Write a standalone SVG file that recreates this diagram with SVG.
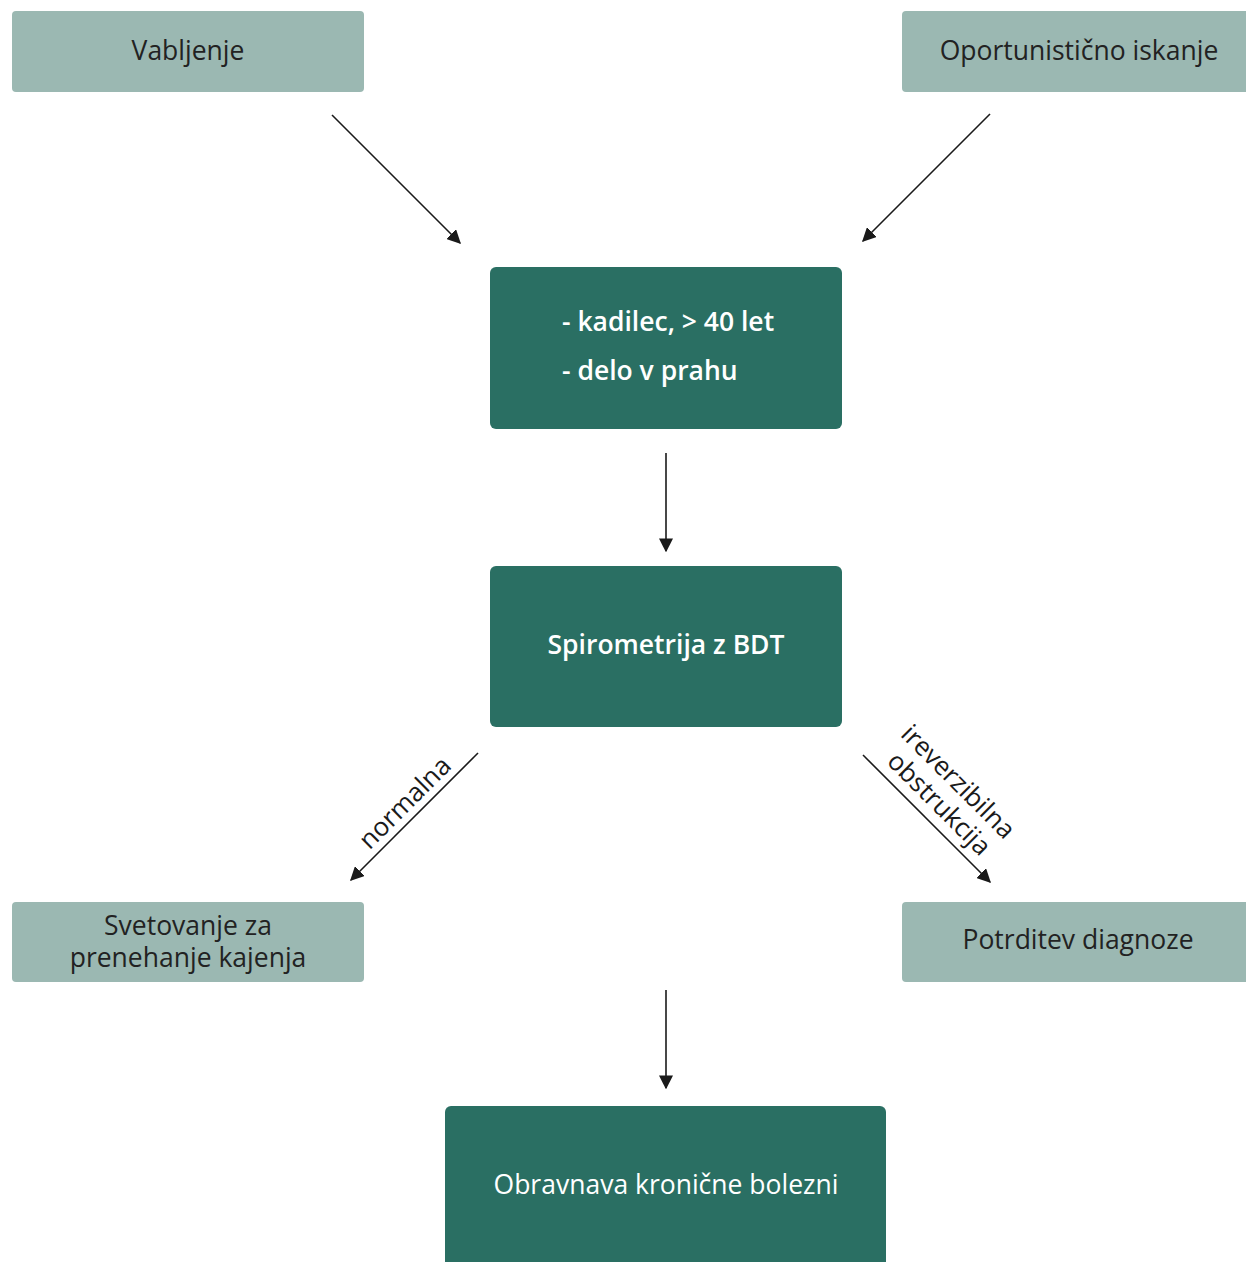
<svg xmlns="http://www.w3.org/2000/svg" width="1246" height="1262" viewBox="0 0 1246 1262">
  <style>
    .light { fill: #9bb8b2; }
    .dark { fill: #2a6f63; }
    .t { font-family: "Open Sans", "Noto Sans", "DejaVu Sans", sans-serif; font-size: 26.5px; }
    .tl { fill: #222222; }
    .td { fill: #ffffff; }
    .sb { font-weight: 600; }
    .lbl { font-family: "Open Sans", "Noto Sans", "DejaVu Sans", sans-serif; font-size: 26px; fill: #1a1a1a; }
    .conn { stroke: #1a1a1a; stroke-width: 1.6; fill: none; marker-end: url(#ah); }
  </style>
  <defs>
    <marker id="ah" viewBox="0 0 10 10" refX="9" refY="5" markerWidth="14" markerHeight="14" markerUnits="userSpaceOnUse" orient="auto">
      <path d="M0,0 L10,5 L0,10 z" fill="#1a1a1a"/>
    </marker>
  </defs>
  <rect width="1246" height="1262" fill="#ffffff"/>

  <g id="vabljenje">
    <rect class="light" x="12" y="11" width="352" height="81" rx="4"/>
    <text class="t tl" x="188" y="60" text-anchor="middle">Vabljenje</text>
  </g>
  <g id="oportunisticno">
    <rect class="light" x="902" y="11" width="352" height="81" rx="4"/>
    <text class="t tl" x="1079" y="60" text-anchor="middle">Oportunistično iskanje</text>
  </g>
  <g id="kriteriji">
    <rect class="dark" x="490" y="267" width="352" height="162" rx="6"/>
    <text class="t td sb" x="562" y="331">- kadilec, &gt; 40 let</text>
    <text class="t td sb" x="562" y="380">- delo v prahu</text>
  </g>
  <g id="spirometrija">
    <rect class="dark" x="490" y="566" width="352" height="161" rx="6"/>
    <text class="t td sb" x="666" y="654" text-anchor="middle">Spirometrija z BDT</text>
  </g>
  <g id="svetovanje">
    <rect class="light" x="12" y="902" width="352" height="80" rx="4"/>
    <text class="t tl" x="188" y="935" text-anchor="middle">Svetovanje za</text>
    <text class="t tl" x="188" y="967" text-anchor="middle">prenehanje kajenja</text>
  </g>
  <g id="potrditev">
    <rect class="light" x="902" y="902" width="352" height="80" rx="4"/>
    <text class="t tl" x="1078" y="949" text-anchor="middle">Potrditev diagnoze</text>
  </g>
  <g id="obravnava">
    <rect class="dark" x="445" y="1106" width="441" height="170" rx="6"/>
    <text class="t td" x="666" y="1194" text-anchor="middle">Obravnava kronične bolezni</text>
  </g>

  <g id="connectors">
    <line class="conn" x1="332" y1="115" x2="460" y2="243"/>
    <line class="conn" x1="990" y1="114" x2="863" y2="241"/>
    <line class="conn" x1="666" y1="453" x2="666" y2="551"/>
    <line class="conn" x1="478" y1="753" x2="351" y2="880"/>
    <line class="conn" x1="863" y1="755" x2="990" y2="882"/>
    <line class="conn" x1="666" y1="990" x2="666" y2="1088"/>
    <text class="lbl" x="0" y="0" text-anchor="middle" transform="translate(411,809) rotate(-45)">normalna</text>
    <text class="lbl" x="0" y="0" text-anchor="middle" transform="translate(952,788) rotate(45)">ireverzibilna</text>
    <text class="lbl" x="0" y="0" text-anchor="middle" transform="translate(933,810) rotate(45)">obstrukcija</text>
  </g>
</svg>
